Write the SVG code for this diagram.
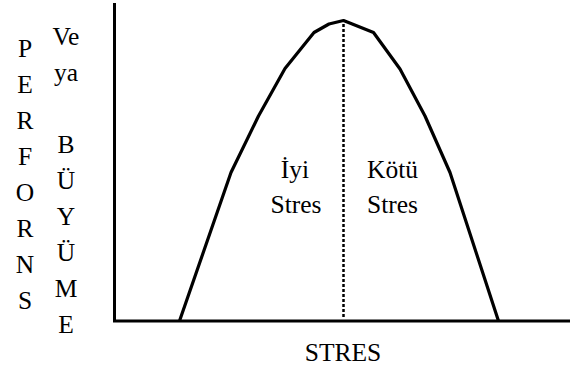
<svg xmlns="http://www.w3.org/2000/svg" width="571" height="372" viewBox="0 0 571 372">
<style>
text{font-family:'Liberation Serif','DejaVu Serif',serif;font-size:25.5px;fill:#000;text-anchor:middle}
.ax{stroke:#000;stroke-width:3;fill:none}
.curve{stroke:#000;stroke-width:3.2;fill:none;stroke-linejoin:round}
.dot{stroke:#000;stroke-width:2.5;stroke-dasharray:3 2;fill:none}
</style>
<rect width="571" height="372" fill="#fff"/>
<g id="connectors">
<path class="ax" d="M114.5 3 V321 H570"/>
<path class="curve" d="M179.5 321 L231 172.5 L258.5 116 L285 68.5 L314 32.5 L329 24 L343.5 20.5 L373.5 32.5 L400 69 L425 116 L450 172.5 L498.5 321"/>
<path class="dot" d="M343.5 24 V319"/>
</g>
<g id="yaxis-label-1">
<text x="25" y="57">P</text>
<text x="25" y="93">E</text>
<text x="25" y="129">R</text>
<text x="25" y="165">F</text>
<text x="25" y="201">O</text>
<text x="25" y="237">R</text>
<text x="25" y="273">N</text>
<text x="25" y="309">S</text>
</g>
<g id="yaxis-label-2">
<text x="66" y="45">Ve</text>
<text x="66" y="81">ya</text>
<text x="66" y="153">B</text>
<text x="66" y="189">Ü</text>
<text x="66" y="225">Y</text>
<text x="66" y="261">Ü</text>
<text x="66" y="297">M</text>
<text x="66" y="333">E</text>
</g>
<g id="good-stress">
<text x="295" y="178">İyi</text>
<text x="296" y="213">Stres</text>
</g>
<g id="bad-stress">
<text x="392.5" y="178">Kötü</text>
<text x="392.5" y="213">Stres</text>
</g>
<g id="xaxis-label">
<text x="343" y="361">STRES</text>
</g>
</svg>
